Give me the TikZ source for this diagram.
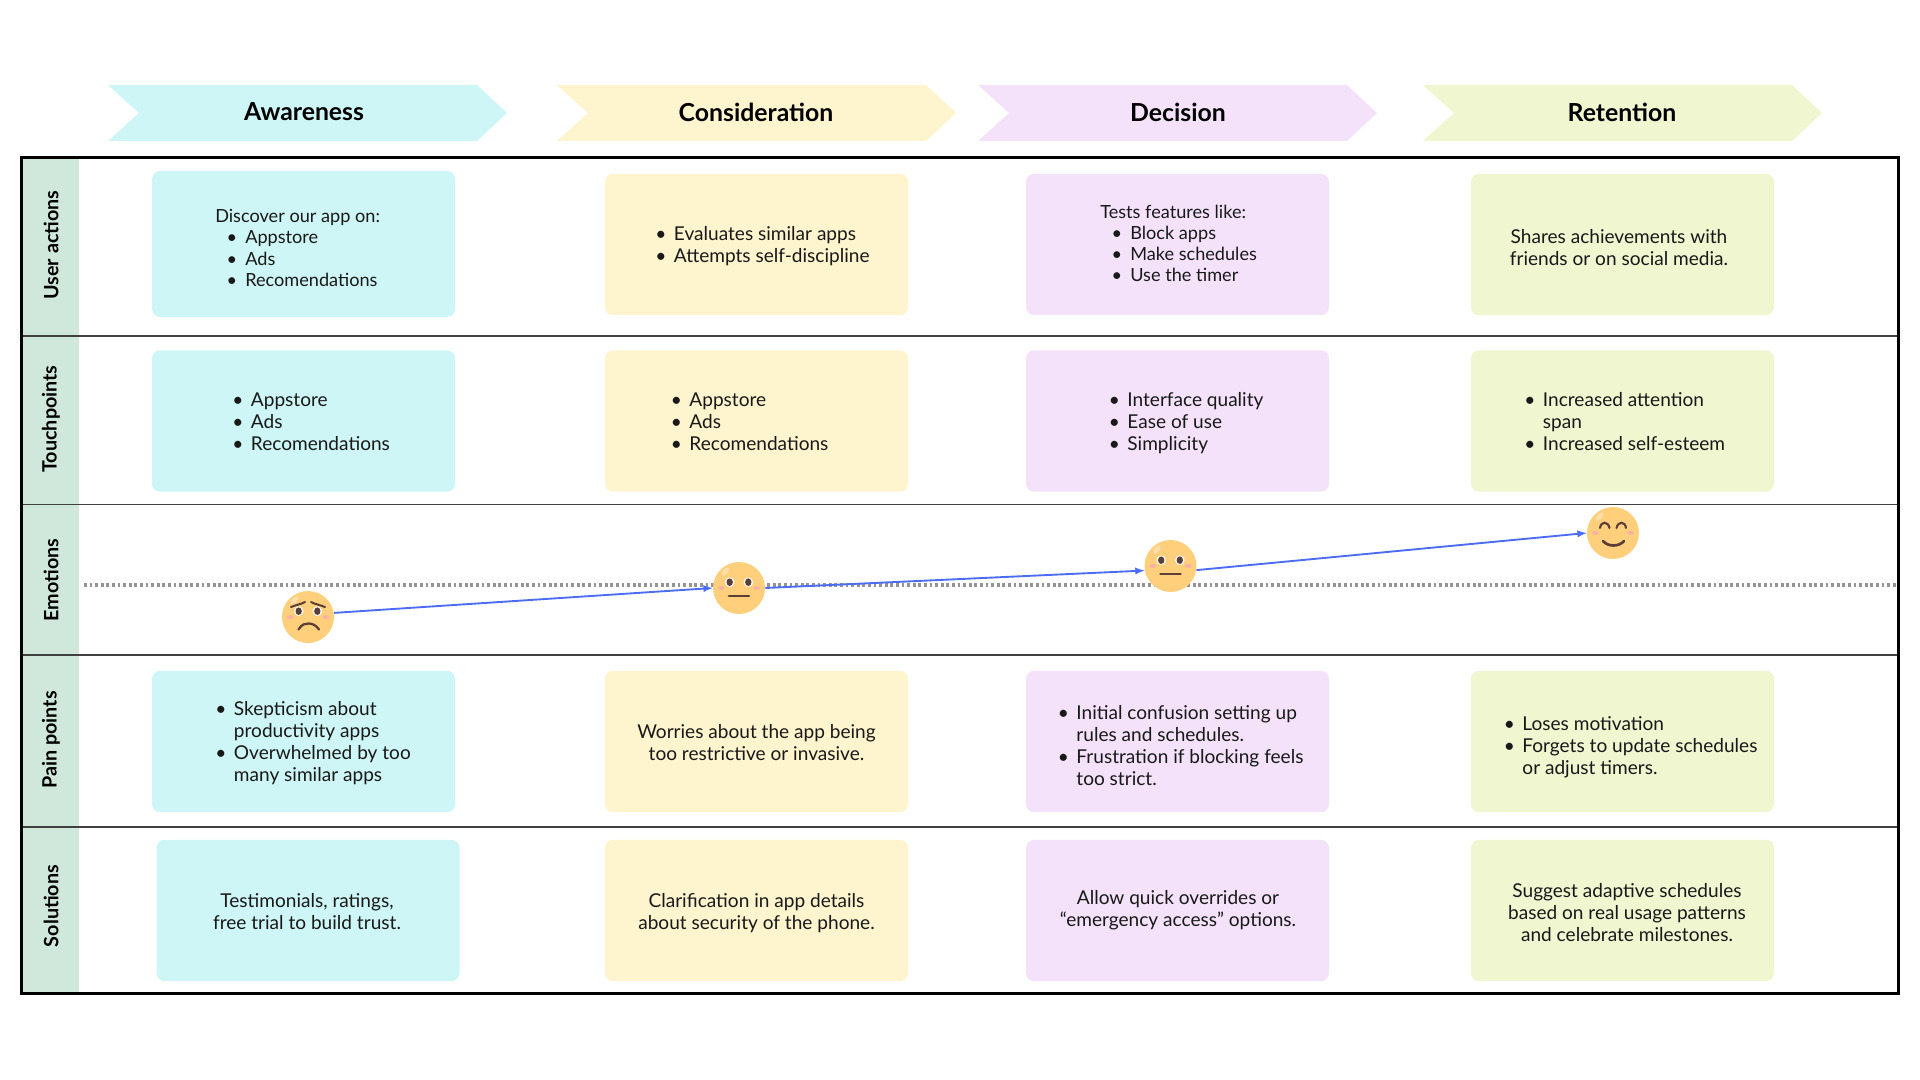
\documentclass[tikz,border=0pt]{standalone}
\usepackage{fontspec}
\setmainfont{Lato}
\usetikzlibrary{arrows}
\definecolor{awarecol}{HTML}{CEF6F6}
\definecolor{considercol}{HTML}{FEF4CD}
\definecolor{decidecol}{HTML}{F4E2FA}
\definecolor{retaincol}{HTML}{EFF6D0}
\definecolor{stripcol}{HTML}{CFE8DB}
\definecolor{facecol}{HTML}{FFCF7C}
\definecolor{cheekcol}{HTML}{F9AFA5}
\definecolor{browncol}{HTML}{5B3F36}
\definecolor{linkcol}{HTML}{4A6CF7}
\newcommand{\li}[1]{\makebox[14pt][l]{\textbullet}#1}
\newcommand{\cont}[1]{\hspace*{14pt}#1}
\newcommand{\hli}[1]{\hspace*{8.5pt}\li{#1}}
\tikzset{
card/.style={
  rectangle,
  rounded corners=6pt,
  inner sep=0pt,
  minimum width=227.25pt,
  minimum height=106pt
  },
cardtext/.style={
  inner sep=0pt,
  text=black!90,
  font=\fontsize{14.3}{16.5}\selectfont
  },
listtext/.style={cardtext,anchor=west,align=left},
tighttext/.style={listtext,font=\fontsize{13.6}{15.9}\selectfont},
midtext/.style={cardtext,align=center},
stagetext/.style={font=\fontsize{18.6}{21}\selectfont\bfseries},
rowtext/.style={rotate=90,font=\fontsize{14.8}{16}\selectfont\bfseries},
rowline/.style={line width=0.9pt,black!75},
face/.style={circle,fill=facecol,inner sep=0pt,minimum size=39pt},
link/.style={-latex,linkcol,line width=1.4pt},
gloss/.pic={
  \fill[white,opacity=.35,shift={(-13.5,-16.5)},rotate=50] (0,0) ellipse (5 and 2.4);
  \fill[cheekcol] (-17.7,0) ellipse (3.4 and 1.8);
  \fill[cheekcol] (17.7,0) ellipse (3.4 and 1.8);
  },
openeyes/.pic={
  \foreach \Side in {-1,1} {
    \fill[white] (\Side*9.3,-5.8) circle (4.8);
    \fill[browncol] (\Side*9.3,-5.8) ellipse (3.2 and 3.8);
    }
  },
sadmarks/.pic={
  \draw[browncol,line width=1.5pt,line cap=round]
    (-17,-10) .. controls (-11,-12.5) and (-6,-13) .. (-3,-15)
    (17,-10) .. controls (11,-12.5) and (6,-13) .. (3,-15);
  \draw[browncol,line width=1.7pt,line cap=round]
    (-9.5,12.5) .. controls (-6,7) and (-3,6.5) .. (0.5,6.5) .. controls (4,6.5) and (8,8) .. (11,12.5);
  },
flatmarks/.pic={
  \draw[browncol,line width=2.2pt,line cap=round] (-10,8) -- (10,8);
  },
happymarks/.pic={
  \draw[browncol,line width=1.6pt,line cap=round]
    (-13,-5) .. controls (-12,-12) and (-5,-12) .. (-3.5,-5)
    (3.5,-5) .. controls (5,-12) and (12,-12) .. (13,-5);
  \draw[browncol,line width=2pt,line cap=round]
    (-10,8) .. controls (-5,14) and (6,14) .. (11,8);
  }
}
\begin{document}
\begin{tikzpicture}[x=0.75pt,y=-0.75pt]
\useasboundingbox (0,0) rectangle (1920,1080);
% stages
\foreach \Name/\Left/\Mid/\Col/\Label in {
  awareness/108/304/awarecol/Awareness,
  consideration/557/756/considercol/Consideration,
  decision/978/1178/decidecol/Decision,
  retention/1423/1622/retaincol/Retention} {
  \fill[\Col] (\Left,85) -- ++(369,0) -- ++(30,28) -- ++(-30,28) -- ++(-369,0) -- ++(31,-28) -- cycle;
  \node[stagetext] (\Name) at (\Mid,112) {\Label};
}
% rows
\fill[stripcol] (21,158) rectangle (79,993);
\foreach \Y in {336,504.5,655,827}
  \draw[rowline] (21,\Y) -- (1898,\Y);
\draw[line width=2.25pt] (21,158) rectangle (1898,993);
\foreach \Name/\Y/\Label in {
  actions/245/User actions,
  touch/419/Touchpoints,
  emotions/580/Emotions,
  pain/740/Pain points,
  fixes/906/Solutions}
  \node[rowtext] (\Name) at (51,\Y) {\Label};
% cards
\foreach \Name/\X/\Y/\Col in {
  actB/756.5/244.5/considercol,
  actC/1177.5/244.5/decidecol,
  actD/1622.5/244.5/retaincol,
  touA/303.5/421/awarecol,
  touB/756.5/421/considercol,
  touC/1177.5/421/decidecol,
  touD/1622.5/421/retaincol,
  paiA/303.5/741.5/awarecol,
  paiB/756.5/741.5/considercol,
  paiC/1177.5/741.5/decidecol,
  paiD/1622.5/741.5/retaincol,
  fixA/308/910.5/awarecol,
  fixB/756.5/910.5/considercol,
  fixC/1177.5/910.5/decidecol,
  fixD/1622.5/910.5/retaincol}
  \node[card,fill=\Col] (\Name) at (\X,\Y) {};
\node[card,fill=awarecol,minimum height=109.5pt] (actA) at (303.5,244) {};
% card texts
\node[tighttext] (actAt) at (215,248) {Discover our app on:\\\hli{Appstore}\\\hli{Ads}\\\hli{Recomendations}};
\node[listtext] (actBt) at (655,246.5) {\li{Evaluates similar apps}\\\li{Attempts self-discipline}};
\node[tighttext] (actCt) at (1100,243.5) {Tests features like:\\\hli{Block apps}\\\hli{Make schedules}\\\hli{Use the timer}};
\node[midtext] (actDt) at (1619,247.5) {Shares achievements with\\friends or on social media.};
\node[listtext] (touAt) at (232,421.5) {\li{Appstore}\\\li{Ads}\\\li{Recomendations}};
\node[listtext] (touBt) at (670.5,421.5) {\li{Appstore}\\\li{Ads}\\\li{Recomendations}};
\node[listtext] (touCt) at (1108.5,423.5) {\li{Interface quality}\\\li{Ease of use}\\\li{Simplicity}};
\node[listtext] (touDt) at (1524,421.5) {\li{Increased attention}\\\cont{span}\\\li{Increased self-esteem}};
\node[listtext] (paiAt) at (215,743.5) {\li{Skepticism about}\\\cont{productivity apps}\\\li{Overwhelmed by too}\\\cont{many similar apps}};
\node[midtext] (paiBt) at (756.5,742.5) {Worries about the app being\\too restrictive or invasive.};
\node[listtext] (paiCt) at (1057.5,745.5) {\li{Initial confusion setting up}\\\cont{rules and schedules.}\\\li{Frustration if blocking feels}\\\cont{too strict.}};
\node[listtext] (paiDt) at (1503.5,747) {\li{Loses motivation}\\\li{Forgets to update schedules}\\\cont{or adjust timers.}};
\node[midtext] (fixAt) at (307,911.5) {Testimonials, ratings,\\free trial to build trust.};
\node[midtext] (fixBt) at (756.5,913) {Clarification in app details\\about security of the phone.};
\node[midtext] (fixCt) at (1178,910.5) {Allow quick overrides or\\“emergency access” options.};
\node[midtext] (fixDt) at (1627,913) {Suggest adaptive schedules\\based on real usage patterns\\and celebrate milestones.};
% emotions
\draw[line width=2.4pt,black!42,dash pattern=on 2.1pt off 2.1pt] (84,585) -- (1898,585);
\node[face] (sad) at (308,617) {};
\node[face] (flat) at (739,588) {};
\node[face] (calm) at (1170.5,566) {};
\node[face] (happy) at (1613,533) {};
\draw[link] (sad.9) -- (flat.west);
\draw[link] (flat.east) -- (calm.190);
\draw[link] (calm.-9) -- (happy.west);
\pic at (sad) {gloss};
\pic at (sad) {openeyes};
\pic at (sad) {sadmarks};
\foreach \Name in {flat,calm} {
  \pic at (\Name) {gloss};
  \pic at (\Name) {openeyes};
  \pic at (\Name) {flatmarks};
}
\pic at (happy) {gloss};
\pic at (happy) {happymarks};
\end{tikzpicture}
\end{document}
